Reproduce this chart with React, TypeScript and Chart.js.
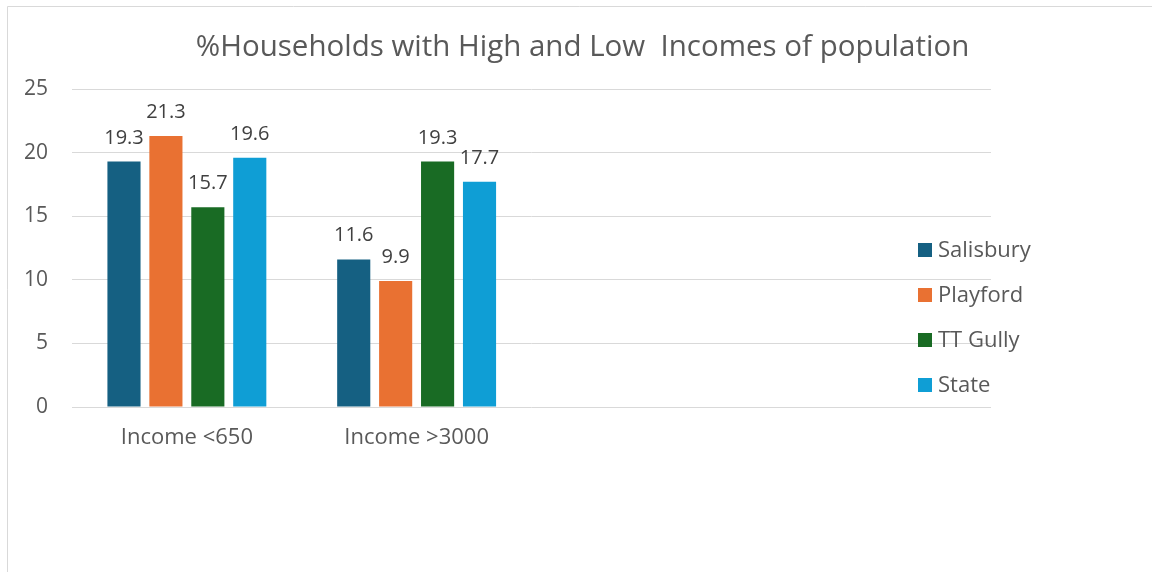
import React, { useEffect, useRef } from "react";
import { Chart, registerables } from "chart.js";

Chart.register(...registerables);

const titleText = "%Households with High and Low  Incomes of population";
const categories = ["Income <650", "Income >3000", "", ""];
const seriesNames = ["Salisbury", "Playford", "TT Gully", "State"];
const salisbury = [19.3, 11.6, null, null];
const playford = [21.3, 9.9, null, null];
const ttGully = [15.7, 19.3, null, null];
const stateVals = [19.6, 17.7, null, null];
const colors = ["#156082", "#E97132", "#196B24", "#0F9ED5"];
const yTicks = [0, 5, 10, 15, 20, 25];

const FONT = "'Open Sans', 'Liberation Sans', sans-serif";
const TEXT = "#595959";

const excelPlugin = {
  id: "excelLook",
  beforeDraw(chart: any) {
    const ctx = chart.ctx;
    ctx.save();
    ctx.fillStyle = "#ffffff";
    ctx.fillRect(0, 0, chart.width, chart.height);
    ctx.strokeStyle = "#d9d9d9";
    ctx.lineWidth = 1;
    ctx.beginPath();
    ctx.moveTo(7.5, chart.height);
    ctx.lineTo(7.5, 6.5);
    ctx.lineTo(chart.width, 6.5);
    ctx.stroke();
    ctx.restore();
  },
  afterDatasetsDraw(chart: any) {
    const ctx = chart.ctx;
    ctx.save();
    ctx.font = `20px ${FONT}`;
    ctx.fillStyle = "#404040";
    ctx.textAlign = "center";
    ctx.textBaseline = "alphabetic";
    chart.data.datasets.forEach((ds: any, i: number) => {
      const meta = chart.getDatasetMeta(i);
      meta.data.forEach((el: any, j: number) => {
        const v = ds.data[j];
        if (v === null || v === undefined) return;
        ctx.fillText(v.toFixed(1), el.x, el.y - 18);
      });
    });
    ctx.restore();
  },
  afterDraw(chart: any) {
    const ctx = chart.ctx;
    ctx.save();
    // title
    ctx.font = `29.5px ${FONT}`;
    ctx.fillStyle = TEXT;
    ctx.textAlign = "center";
    ctx.textBaseline = "alphabetic";
    ctx.fillText(titleText, 582.5, 56);
    // legend
    ctx.font = `22px ${FONT}`;
    ctx.textAlign = "left";
    chart.data.datasets.forEach((ds: any, i: number) => {
      const top = 243 + i * 45;
      ctx.fillStyle = ds.backgroundColor;
      ctx.fillRect(918, top, 14, 14);
      ctx.fillStyle = TEXT;
      ctx.fillText(ds.label, 938, top + 13.5);
    });
    ctx.restore();
  },
};

export default function App() {
  const ref = useRef<HTMLCanvasElement | null>(null);
  useEffect(() => {
    if (!ref.current) return;
    const seriesData = [salisbury, playford, ttGully, stateVals];
    const chart = new Chart(ref.current, {
      type: "bar",
      data: {
        labels: categories,
        datasets: seriesNames.map((name, i) => ({
          label: name,
          data: seriesData[i],
          backgroundColor: colors[i],
          borderWidth: 0,
          categoryPercentage: 0.73,
          barPercentage: 0.79,
        })),
      },
      options: {
        responsive: false,
        animation: false,
        layout: { padding: { left: 0, top: 89, right: 161, bottom: 105 } },
        plugins: {
          legend: { display: false },
          title: { display: false },
          tooltip: { enabled: false },
        },
        scales: {
          x: {
            grid: { display: false, drawTicks: false },
            border: { display: false },
            ticks: {
              color: TEXT,
              font: { family: FONT, size: 22 },
              padding: 18,
              maxRotation: 0,
              autoSkip: false,
            },
            afterFit: (s: any) => {
              s.height = 60;
            },
          },
          y: {
            min: 0,
            max: 25,
            afterBuildTicks: (s: any) => {
              s.ticks = yTicks.map((v) => ({ value: v }));
            },
            grid: { color: "#d9d9d9", lineWidth: 1, drawTicks: false },
            border: { display: false },
            ticks: {
              color: TEXT,
              font: { family: FONT, size: 21 },
              padding: 24,
            },
            afterFit: (s: any) => {
              s.width = 72;
            },
          },
        },
      },
      plugins: [excelPlugin],
    });
    return () => chart.destroy();
  }, []);
  return (
    <div style={{ position: "fixed", left: 0, top: 0, width: 1152, height: 572, background: "#fff" }}>
      <canvas ref={ref} width={1152} height={572} style={{ display: "block" }} />
    </div>
  );
}
